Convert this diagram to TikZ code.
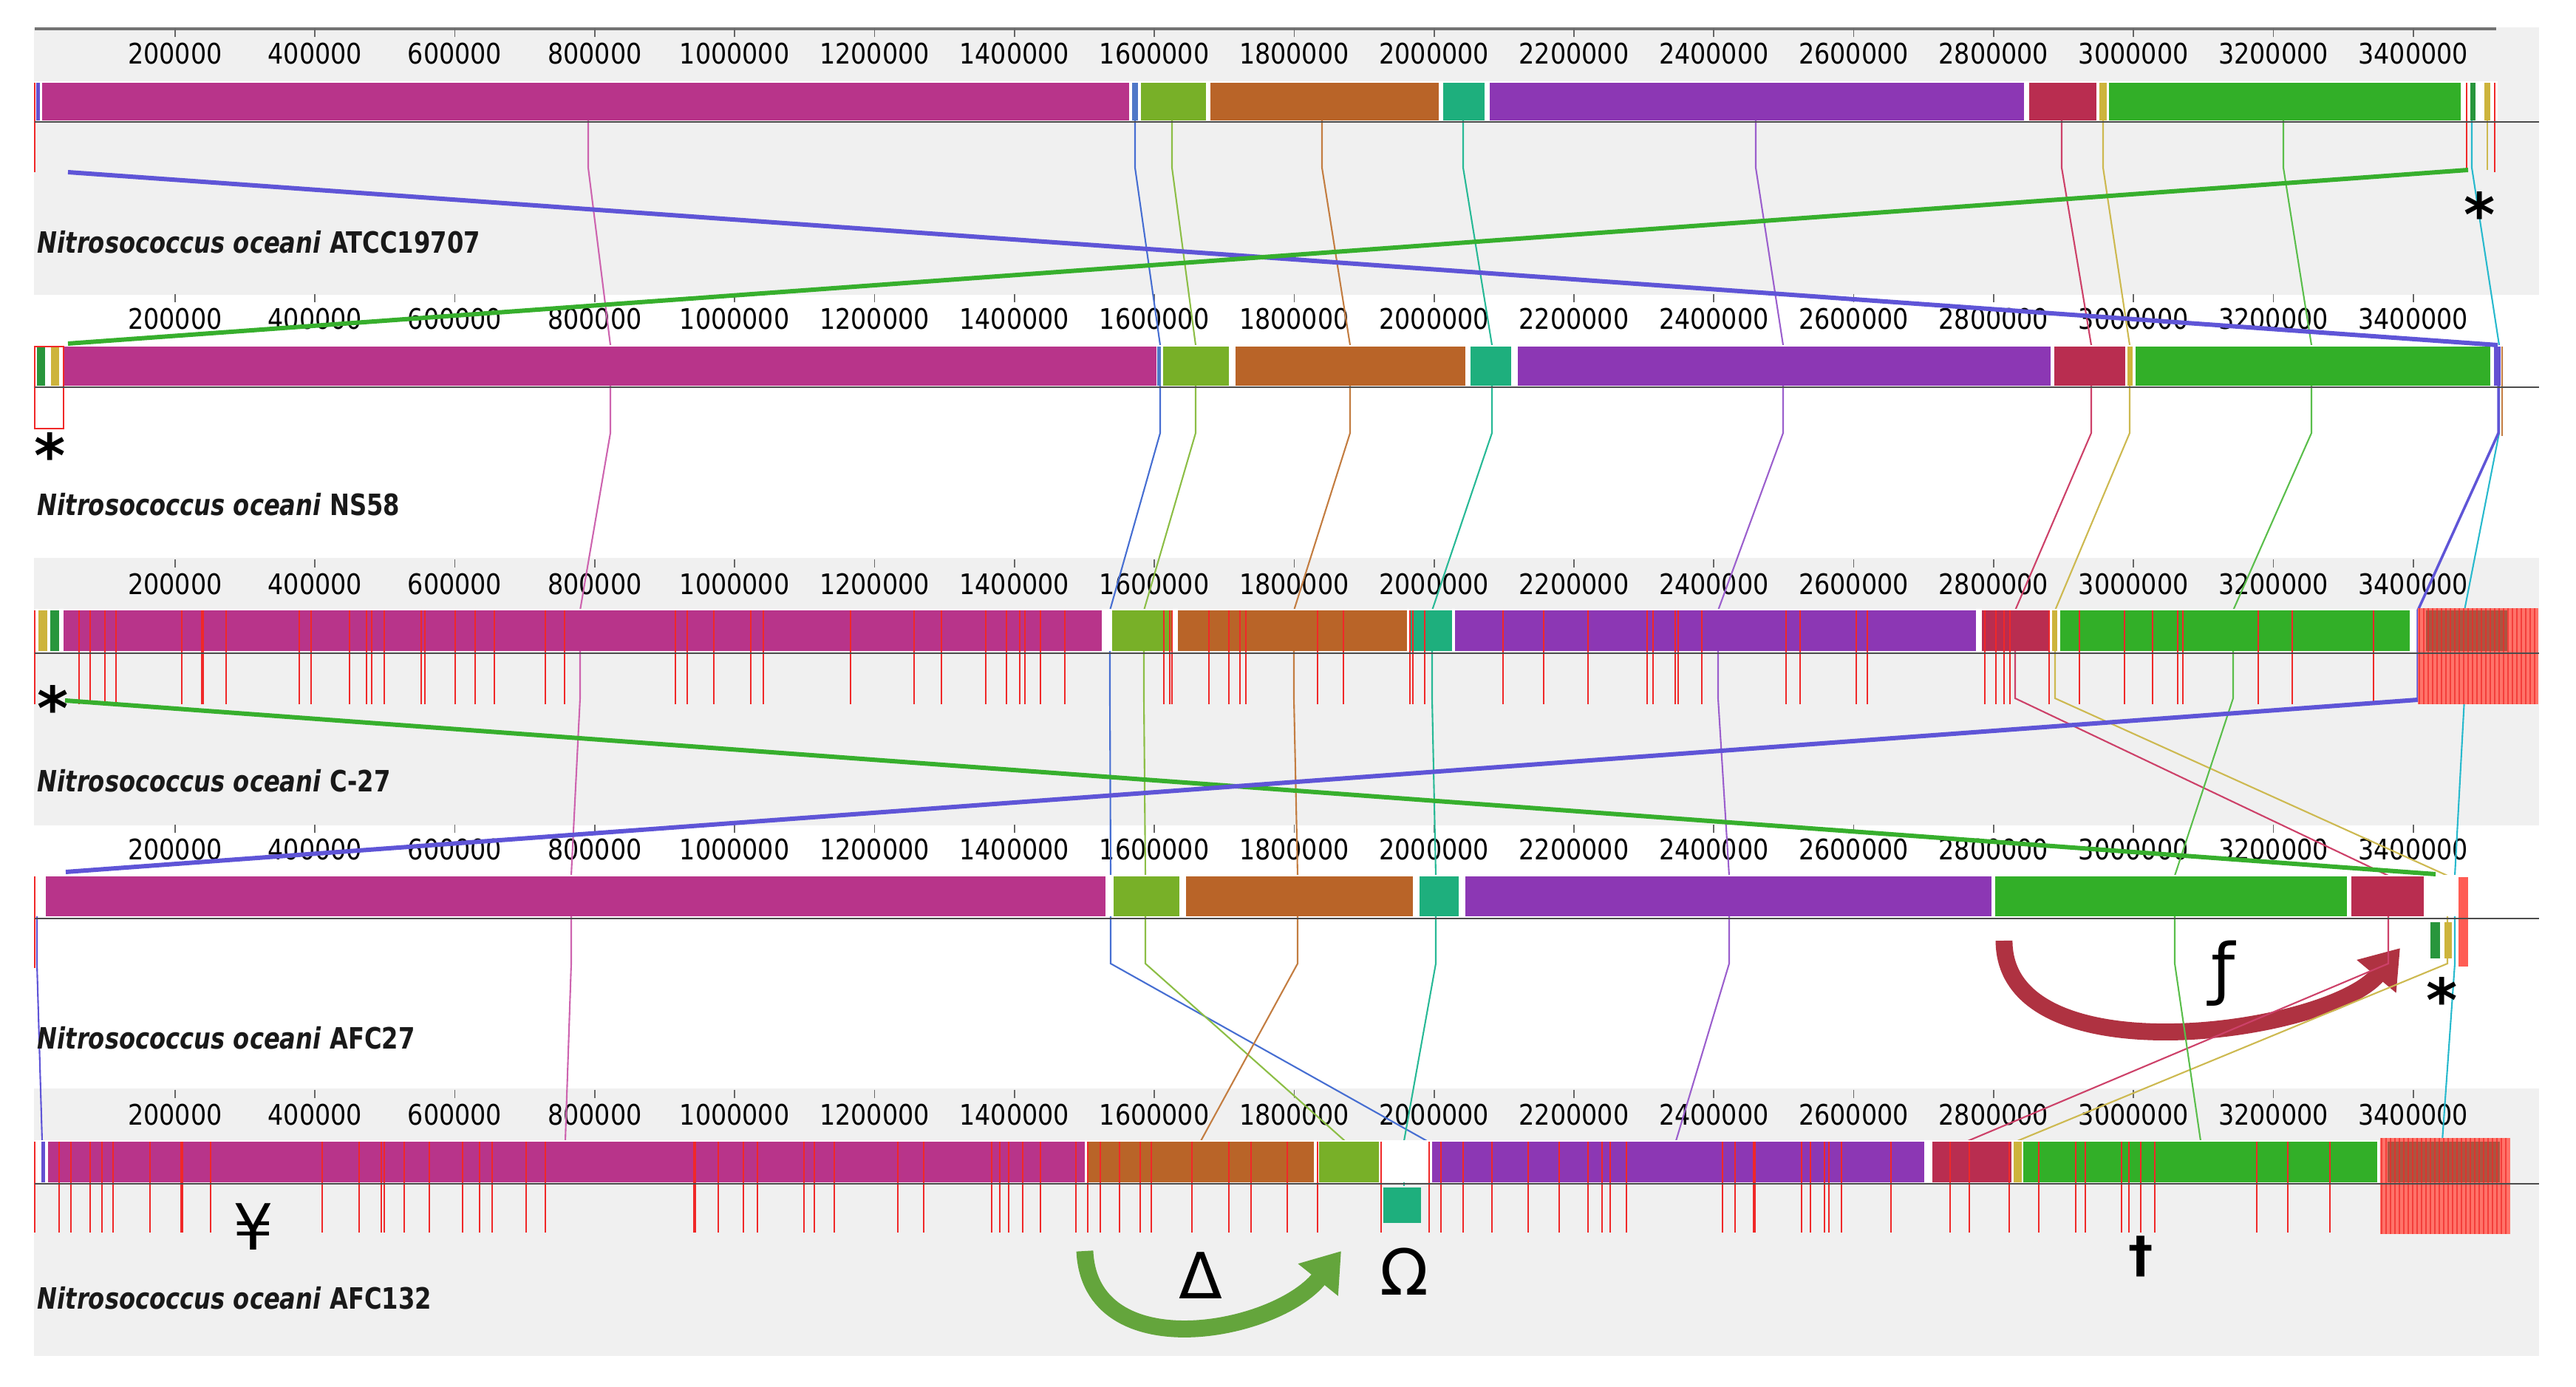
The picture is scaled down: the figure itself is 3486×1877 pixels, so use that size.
\documentclass[tikz,border=0pt]{standalone}
\usepackage{fontspec}
\setmainfont{DejaVu Sans}
\usetikzlibrary{arrows.meta}

\definecolor{panelgray}{RGB}{240,240,240}
\definecolor{magentaLCB}{RGB}{184,52,138}
\definecolor{lgreenLCB}{RGB}{120,176,40}
\definecolor{orangeLCB}{RGB}{185,100,40}
\definecolor{tealLCB}{RGB}{30,175,125}
\definecolor{purpleLCB}{RGB}{140,55,180}
\definecolor{crimsonLCB}{RGB}{185,45,80}
\definecolor{greenLCB}{RGB}{50,175,40}
\definecolor{yellowLCB}{RGB}{205,180,60}
\definecolor{dgreenLCB}{RGB}{40,150,60}
\definecolor{blueLCB}{RGB}{80,120,200}
\definecolor{slateLCB}{RGB}{100,80,210}
\definecolor{magentaC}{RGB}{205,100,175}
\definecolor{blueC}{RGB}{70,110,210}
\definecolor{lgreenC}{RGB}{140,190,70}
\definecolor{orangeC}{RGB}{195,125,65}
\definecolor{tealC}{RGB}{40,185,150}
\definecolor{purpleC}{RGB}{155,95,205}
\definecolor{crimsonC}{RGB}{205,65,105}
\definecolor{yellowC}{RGB}{205,185,80}
\definecolor{greenC}{RGB}{90,190,75}
\definecolor{cyanC}{RGB}{40,185,205}
\definecolor{slateC}{RGB}{95,85,215}
\definecolor{greenJ}{RGB}{55,175,45}
\definecolor{snpred}{RGB}{240,40,40}
\definecolor{hatchred}{RGB}{255,115,105}
\definecolor{brownred}{RGB}{170,85,65}
\definecolor{deltagreen}{RGB}{100,165,60}
\definecolor{fcrimson}{RGB}{175,50,65}

\newcommand{\condtxt}[2][0.87]{\scalebox{#1}[1]{#2}}

\begin{document}
\begin{tikzpicture}[x=0.01cm,y=-0.01cm,
  conn/.style={line width=0.6pt},
  jump/.style={line width=1.7pt},
  snp/.style={draw=snpred,line width=0.45pt},
  seqline/.style={draw=black!70,line width=0.8pt},
  rulertick/.style={draw=black!60,line width=0.5pt},
  ticklabel/.style={inner sep=0pt,text=black,font=\fontsize{10.9}{12}\selectfont},
  genomelabel/.style={anchor=west,inner sep=0pt,text=black!90,font=\bfseries\fontsize{11.3}{13}\selectfont},
  sym/.style={inner sep=0pt,font=\fontsize{24.5}{26}\selectfont},
  star/.style={inner sep=0pt,anchor=base,font=\bfseries\fontsize{23}{24}\selectfont},
  movearrow/.style={line width=6.5pt,-{Triangle[length=0.5cm,width=0.66cm]}}]
\useasboundingbox (0,0) rectangle (3486,1877);

% gray bands for genomes 1, 3, 5
\foreach \tp in {37,755,1473}
  \fill[panelgray] (46,\tp) rectangle (3436,\tp+362);

% ruler
\draw[black!55,line width=1.3pt] (47,39) -- (3378,39);
\foreach \tp in {37,396,755,1114,1473}
  \foreach \k in {1,...,17}{
    \draw[rulertick] ({47.7+189.3*\k},\tp+2) -- ++(0,11);
    \node[ticklabel] (lab\tp-\k) at ({47.7+189.3*\k},\tp+36)
      {\condtxt{\the\numexpr2*\k\relax00000}};
  }

% moved blocks
\coordinate (fstart) at (2712,1273);
\coordinate (fend) at (3248,1283);
\draw[movearrow,fcrimson] (fstart) .. controls (2712,1460) and (3150,1400) .. (fend);
\coordinate (dstart) at (1468,1693);
\coordinate (dend) at (1815,1693);
\draw[movearrow,deltagreen] (dstart) .. controls (1475,1850) and (1725,1805) .. (dend);

% LCB connectors
\foreach \col/\xa/\xb/\xc/\xd/\xe in {
    magentaC/796/826/785/773/765, blueC/1536/1570/1502/1503/1931,
    lgreenC/1586/1618/1548/1550/1820, orangeC/1789/1827/1751/1756/1625,
    tealC/1980/2019/1938/1943/1900, purpleC/2376/2413/2325/2340/2268,
    crimsonC/2790/2830/2727/3232/2663, yellowC/2846/2882/2781/3312/2730,
    greenC/3090/3128/3022/2943/2978, cyanC/3345/3382/3335/3322/3305}
  \draw[conn,\col] (\xa,163) -- (\xa,227) -- (\xb,467) -- (\xb,586)
    -- (\xc,826) -- (\xc,945) -- (\xd,1185) -- (\xd,1304) -- (\xe,1544);
\draw[conn,tealC] (1900,1544) -- (1900,1605);
\draw[conn,slateC,line width=1pt] (3381,467) -- (3381,586) -- (3272,826) -- (3272,947);
\draw[conn,slateC] (50,1185) -- (50,1304) -- (57,1544);

% genome 1
\fill[white] (47,110) rectangle (3380,163);
\foreach \xa/\xb/\col in {49/54/slateLCB, 57/1528/magentaLCB, 1532/1540/blueLCB,
    1544/1632/lgreenLCB, 1638/1947/orangeLCB, 1953/2009/tealLCB,
    2016/2739/purpleLCB, 2746/2837/crimsonLCB, 2841/2851/yellowLCB,
    2854/3330/greenLCB, 3343/3350/dgreenLCB, 3362/3370/yellowLCB}
  \fill[\col] (\xa,112) rectangle (\xb,163);
\draw[snp] (47,112) -- (47,233);
\draw[snp] (3338,112) -- (3338,233);
\draw[snp] (3376,112) -- (3376,233);
\draw[yellowC,line width=0.5pt] (3366,163) -- (3366,230);

% genome 2
\fill[white] (47,467) rectangle (3388,522);
\foreach \xa/\xb/\col in {50/61/dgreenLCB, 69/80/yellowLCB, 86/1565/magentaLCB,
    1566/1571/blueLCB, 1574/1663/lgreenLCB, 1672/1983/orangeLCB,
    1990/2045/tealLCB, 2054/2775/purpleLCB, 2780/2876/crimsonLCB,
    2879/2886/yellowLCB, 2890/3370/greenLCB, 3375/3384/slateLCB}
  \fill[\col] (\xa,469) rectangle (\xb,522);
\draw[snp] (47,469) rectangle (86,580);
\draw[orangeC,line width=0.5pt] (3386,469) -- (3386,590);

% genome 3
\fill[white] (47,824) rectangle (3270,881);
\foreach \xa/\xb/\col in {52/64/yellowLCB, 68/80/dgreenLCB, 86/1491/magentaLCB,
    1505/1586/lgreenLCB, 1594/1904/orangeLCB, 1908/1965/tealLCB,
    1969/2674/purpleLCB, 2682/2773/crimsonLCB, 2777/2784/yellowLCB,
    2788/3261/greenLCB}
  \fill[\col] (\xa,826) rectangle (\xb,881);
\fill[hatchred] (3272,823) rectangle (3435,953);
\fill[brownred] (3283,826) rectangle (3393,881);
\foreach \x in {3274,3280,...,3433}
  \draw[snp,opacity=0.7] (\x,823) -- (\x,953);
\foreach \x in {47,107,122,142,157,246,306,405,421,473,496,503,520,570,575,616,
    643,669,738,764,914,930,966,1016,1033,1151,1237,1274,1334,1362,1380,1387,
    1408,1441,1575,1583,1586,1636,1663,1678,1686,1783,1818,1908,1912,1928,2034,
    2089,2149,2229,2237,2267,2271,2303,2417,2436,2512,2527,2686,2701,2712,2720,
    2773,2814,2875,2913,2947,2954,3056,3102,3212}
  \draw[snp] (\x,826) -- (\x,953);
\draw[snp,line width=1pt] (274,826) -- (274,953);

% genome 4
\fill[white] (47,1184) rectangle (3345,1240);
\foreach \xa/\xb/\col in {62/1496/magentaLCB, 1507/1596/lgreenLCB,
    1605/1912/orangeLCB, 1921/1974/tealLCB, 1983/2695/purpleLCB,
    2700/3176/greenLCB, 3182/3280/crimsonLCB}
  \fill[\col] (\xa,1186) rectangle (\xb,1240);
\fill[dgreenLCB] (3289,1248) rectangle (3302,1297);
\fill[yellowLCB] (3308,1248) rectangle (3318,1297);
\fill[hatchred!80!red] (3327,1187) rectangle (3340,1308);
\draw[snp] (47,1186) -- (47,1310);

% genome 5
\fill[white] (47,1543) rectangle (3220,1600);
\foreach \xa/\xb/\col in {56/61/slateLCB, 65/1468/magentaLCB, 1472/1778/orangeLCB,
    1785/1866/lgreenLCB, 1938/2604/purpleLCB, 2615/2722/crimsonLCB,
    2725/2736/yellowLCB, 2738/3217/greenLCB}
  \fill[\col] (\xa,1545) rectangle (\xb,1600);
\fill[tealLCB] (1872,1607) rectangle (1923,1655);
\fill[hatchred] (3221,1540) rectangle (3397,1670);
\fill[brownred] (3231,1545) rectangle (3383,1600);
\foreach \x in {3223,3229,...,3395}
  \draw[snp,opacity=0.7] (\x,1540) -- (\x,1670);
\foreach \x in {47,80,96,122,138,153,203,285,436,486,516,520,547,581,626,649,666,
    712,738,972,1006,1025,1088,1102,1129,1215,1250,1342,1353,1365,1384,1408,1456,
    1472,1489,1515,1543,1558,1613,1663,1693,1742,1783,1869,1934,1950,1980,2019,
    2068,2110,2149,2168,2179,2201,2331,2348,2438,2450,2469,2475,2492,2559,2639,
    2665,2719,2759,2809,2822,2871,2881,2897,2916,3054,3096,3153}
  \draw[snp] (\x,1545) -- (\x,1668);
\foreach \x in {246,940,2374}
  \draw[snp,line width=1.1pt] (\x,1545) -- (\x,1668);

% sequence lines
\foreach \y in {165,524,884,1243,1602}
  \draw[seqline] (47,\y) -- (3436,\y);

% long jumps of the small blocks
\draw[jump,slateC] (92,233) -- (3380,467);
\draw[jump,greenJ] (3340,230) -- (92,465);
\draw[jump,greenJ] (88,948) -- (3296,1183);
\draw[jump,slateC] (3272,947) -- (89,1180);

% genome names
\node[genomelabel] (gATCC) at (50,328) {\condtxt[0.81]{\textit{Nitrosococcus oceani} ATCC19707}};
\node[genomelabel] (gNS58) at (50,683) {\condtxt[0.81]{\textit{Nitrosococcus oceani} NS58}};
\node[genomelabel] (gC27) at (50,1057) {\condtxt[0.81]{\textit{Nitrosococcus oceani} C-27}};
\node[genomelabel] (gAFC27) at (50,1405) {\condtxt[0.81]{\textit{Nitrosococcus oceani} AFC27}};
\node[genomelabel] (gAFC132) at (50,1757) {\condtxt[0.81]{\textit{Nitrosococcus oceani} AFC132}};

% marks
\node[star] (ast1) at (3356,320) {*};
\node[star] (ast2) at (68,646) {*};
\node[star] (ast3) at (72,988) {*};
\node[star] (ast4) at (3305,1383) {*};
\node[sym,anchor=base] (yen) at (343,1692) {¥};
\node[sym,font=\bfseries\fontsize{19}{20}\selectfont] (dag) at (2897,1700) {†};
\node[sym] (delta) at (1625,1726) {Δ};
\node[sym] (omega) at (1900,1721) {Ω};
\node[sym,font=\fontsize{26}{28}\selectfont] (ffun) at (3009,1317) {ƒ};
\end{tikzpicture}
\end{document}
